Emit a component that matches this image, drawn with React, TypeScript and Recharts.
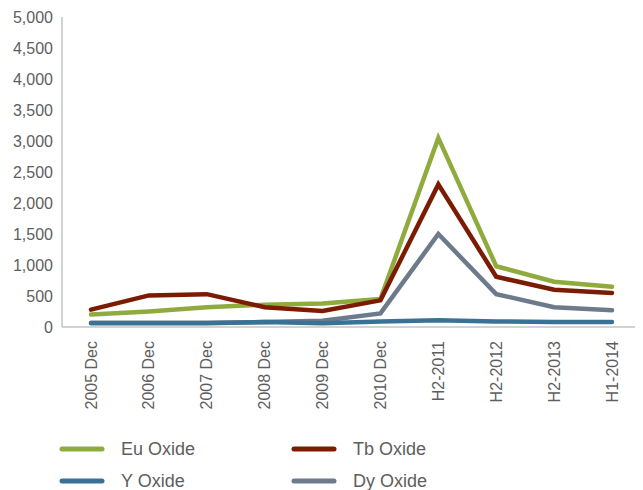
import { LineChart, Line, XAxis, YAxis, Legend } from "recharts";

const periodos = [
  "2005 Dec", "2006 Dec", "2007 Dec", "2008 Dec", "2009 Dec",
  "2010 Dec", "H2-2011", "H2-2012", "H2-2013", "H1-2014",
];
const euOxide = [200, 250, 320, 360, 380, 450, 3050, 980, 730, 650];
const tbOxide = [280, 510, 530, 320, 260, 430, 2300, 810, 600, 550];
const yOxide = [60, 60, 60, 80, 60, 90, 110, 90, 80, 80];
const dyOxide = [70, 70, 70, 80, 100, 220, 1500, 530, 320, 270];
const ticksY = [0, 500, 1000, 1500, 2000, 2500, 3000, 3500, 4000, 4500, 5000];

const colores = {
  eu: "#8fab3e",
  tb: "#7b1c02",
  y: "#387396",
  dy: "#6c7a8b",
};

const fuente = "'Liberation Sans', Arial, sans-serif";
const gris = "#5e5e5e";
const miles = new Intl.NumberFormat("en-US");

const datos = periodos.map((p, i) => ({
  periodo: p,
  eu: euOxide[i],
  tb: tbOxide[i],
  y: yOxide[i],
  dy: dyOxide[i],
}));

const itemsLeyenda = [
  { nombre: "Eu Oxide", color: colores.eu, x: 54, y: 27 },
  { nombre: "Tb Oxide", color: colores.tb, x: 286, y: 27 },
  { nombre: "Y Oxide", color: colores.y, x: 54, y: 59 },
  { nombre: "Dy Oxide", color: colores.dy, x: 286, y: 59 },
];

function TickX(props: any) {
  const { x, y, payload } = props;
  return (
    <g transform={`translate(${x},${y + 14})`}>
      <text
        transform="rotate(-90)"
        textAnchor="end"
        dy="0.35em"
        fill={gris}
        fontSize={16}
        fontFamily={fuente}
      >
        {payload.value}
      </text>
    </g>
  );
}

function Leyenda() {
  return (
    <svg width={635} height={68} style={{ overflow: "visible" }}>
      {itemsLeyenda.map((it) => (
        <g key={it.nombre}>
          <line
            x1={it.x} x2={it.x + 40} y1={it.y} y2={it.y}
            stroke={it.color} strokeWidth={5} strokeLinecap="round"
          />
          <text
            x={it.x + 59} y={it.y} dy="0.35em"
            fill={gris} fontSize={18} fontFamily={fuente}
          >
            {it.nombre}
          </text>
        </g>
      ))}
    </svg>
  );
}

export default function App() {
  return (
    <LineChart
      width={635}
      height={482}
      data={datos}
      margin={{ top: 9, right: 2, left: 0, bottom: 0 }}
    >
      <XAxis
        dataKey="periodo"
        stroke="#a6a6a6"
        tickLine={false}
        tickSize={0}
        tickMargin={0}
        interval={0}
        height={95}
        padding={{ left: 29, right: 29 }}
        tick={<TickX />}
      />
      <YAxis
        domain={[0, 5000]}
        ticks={ticksY}
        stroke="#a6a6a6"
        tickLine={false}
        tickSize={0}
        tickMargin={9}
        width={54}
        tickFormatter={(v) => miles.format(v)}
        tick={{ fill: gris, fontSize: 16, fontFamily: fuente }}
      />
      <Legend
        verticalAlign="bottom"
        content={<Leyenda />}
        wrapperStyle={{ top: 414, left: 0, bottom: "auto", width: 635, height: 68 }}
      />
      <Line type="linear" dataKey="dy" name="Dy Oxide" stroke={colores.dy} strokeWidth={4.5} strokeLinecap="round" dot={false} isAnimationActive={false} />
      <Line type="linear" dataKey="y" name="Y Oxide" stroke={colores.y} strokeWidth={4.5} strokeLinecap="round" dot={false} isAnimationActive={false} />
      <Line type="linear" dataKey="eu" name="Eu Oxide" stroke={colores.eu} strokeWidth={4.5} strokeLinecap="round" dot={false} isAnimationActive={false} />
      <Line type="linear" dataKey="tb" name="Tb Oxide" stroke={colores.tb} strokeWidth={4.5} strokeLinecap="round" dot={false} isAnimationActive={false} />
    </LineChart>
  );
}
